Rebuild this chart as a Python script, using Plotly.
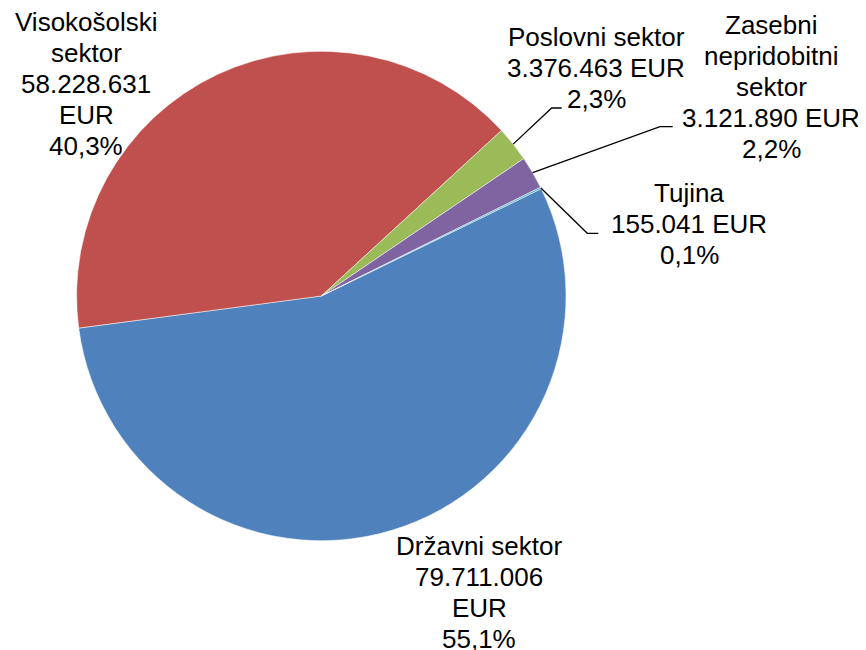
import math
import plotly.graph_objects as go

# data
sectors = ["Državni sektor", "Visokošolski sektor", "Poslovni sektor",
           "Zasebni nepridobitni sektor", "Tujina"]
amounts_eur = [79711006, 58228631, 3376463, 3121890, 155041]
colors = ["#4F81BD", "#C0504D", "#9BBB59", "#8064A2", "#4BACC6"]

W, H = 866, 650
OFF = 8                            # page body margin
CX, CY, R = 321.3, 296.0, 244.7   # pie centre / radius in page px
ROTATION = 64
LINE_STEP = 31
FONT = dict(family="Arial, Liberation Sans, sans-serif", size=26, color="black")

total = sum(amounts_eur)
shares = [v / total for v in amounts_eur]


def fmt_eur(v):
    return f"{v:,}".replace(",", ".")


def fmt_pct(p):
    return f"{p * 100:.1f}%".replace(".", ",")


# where each label sits: centre x, centre of first line, words per name line,
# value+EUR on one line or not, leader line elbow/end (px)
label_layout = {
    "Državni sektor": dict(x=479, y=546, split=[2], inline=False, leader=None),
    "Visokošolski sektor": dict(x=86, y=22, split=[1, 1], inline=False, leader=None),
    "Poslovni sektor": dict(x=596, y=37, split=[2], inline=True,
                            leader=((551.7, 108), (561.7, 108))),
    "Zasebni nepridobitni sektor": dict(x=771, y=25, split=[1, 1, 1], inline=True,
                                        leader=((660, 126.7), (672.7, 126.7))),
    "Tujina": dict(x=689, y=193, split=[1], inline=True,
                   leader=((587.3, 233.3), (598.3, 233.3))),
}


def px(x):
    return (x - OFF) / W


def py(y):
    return 1 - (y - OFF) / H


fig = go.Figure(go.Pie(
    labels=sectors,
    values=amounts_eur,
    sort=False,
    direction="clockwise",
    rotation=ROTATION,
    marker=dict(colors=colors, line=dict(color="white", width=0.5)),
    textinfo="none",
    hoverinfo="label+value+percent",
    showlegend=False,
    domain=dict(x=[px(CX - R), px(CX + R)], y=[py(CY + R), py(CY - R)]),
))

annotations = []
shapes = []
cum = 0.0
for name, val, sh in zip(sectors, amounts_eur, shares):
    lay = label_layout[name]
    words = name.split()
    lines = []
    i = 0
    for n in lay["split"]:
        lines.append(" ".join(words[i:i + n]))
        i += n
    if lay["inline"]:
        lines.append(fmt_eur(val) + " EUR")
    else:
        lines += [fmt_eur(val), "EUR"]
    lines.append(fmt_pct(sh))
    for k, line in enumerate(lines):
        annotations.append(dict(
            x=px(lay["x"]), y=py(lay["y"] + k * LINE_STEP),
            xref="paper", yref="paper", xanchor="center", yanchor="middle",
            text=line, showarrow=False, font=FONT,
        ))
    if lay["leader"]:
        ang = math.radians(ROTATION + 360 * (cum + sh / 2))
        x0 = CX + R * math.sin(ang)
        y0 = CY - R * math.cos(ang)
        (x1, y1), (x2, y2) = lay["leader"]
        shapes.append(dict(
            type="path", xref="paper", yref="paper",
            path=f"M {px(x0)} {py(y0)} L {px(x1)} {py(y1)} L {px(x2)} {py(y2)}",
            line=dict(color="black", width=1.3),
        ))
    cum += sh

fig.update_layout(
    width=W, height=H, autosize=False,
    margin=dict(l=0, r=0, t=0, b=0),
    paper_bgcolor="white", plot_bgcolor="white",
    annotations=annotations, shapes=shapes,
)

fig.write_html("out.html")
